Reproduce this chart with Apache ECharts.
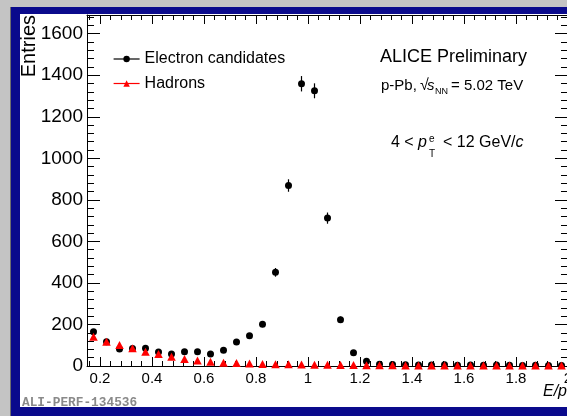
<!DOCTYPE html>
<html><head><meta charset="utf-8">
<script src="https://cdn.jsdelivr.net/npm/echarts@6/dist/echarts.min.js"></script>
<style>
html,body{margin:0;padding:0;background:#c4c4c4;width:567px;height:416px;overflow:hidden;position:relative}
#blue{position:absolute;left:10px;top:7px;width:557px;height:409px;background:#0a0a8c;border-left:1px solid #6e6e6e}
#white{position:absolute;left:20px;top:14px;width:547px;height:393px;background:#fff}
#chart{position:absolute;left:0;top:0;width:567px;height:416px}
</style>
</head><body>
<div id="blue"></div><div id="white"></div>
<div id="chart"></div>
<script>
const binCenters = [0.175,0.225,0.275,0.325,0.375,0.425,0.475,0.525,0.575,0.625,0.675,0.725,0.775,0.825,0.875,0.925,0.975,1.025,1.075,1.125,1.175,1.225,1.275,1.325,1.375,1.425,1.475,1.525,1.575,1.625,1.675,1.725,1.775,1.825,1.875,1.925,1.975];
const electronCounts = [165,117,82,84,85,67,58,69,69,58,76,116,146,201,451,869,1359,1325,712,223,64,23,8,7,6,5,5,6,4,5,4,5,4,3,4,3,3];
const electronErrors = [13,11,9,9,9,8,8,8,8,8,9,11,12,14,21,30,37,36,27,15,8,5,3,3,2,2,2,2,2,2,2,2,2,2,2,2,2];
const hadronCounts = [141,117,101,85,69,58,45,34,26,20,16,14,12,10,9,8,7,6,6,5,5,4,4,4,3,3,3,3,3,2,2,2,2,2,2,2,2];
const xMajorTicks = [0.2,0.4,0.6,0.8,1.0,1.2,1.4,1.6,1.8,2.0];
const xTickLabels = ['0.2','0.4','0.6','0.8','1','1.2','1.4','1.6','1.8','2'];
const yMajorTicks = [0,200,400,600,800,1000,1200,1400,1600];
const yTickLabels = ['0','200','400','600','800','1000','1200','1400','1600'];

const X_MIN = 0.15, X_MAX = 2.0, Y_MIN = 0, Y_MAX = 1690;
const FONT = '"Liberation Sans", Arial, Helvetica, sans-serif';

// minor tick positions (axis decoration only)
const xMinorTicks = [];
for (let k = 4; k <= 50; k++) { const v = +(k*0.04).toFixed(2); if (v > X_MIN && v < X_MAX && Math.abs(v/0.2 - Math.round(v/0.2)) > 1e-6) xMinorTicks.push(v); }
const yMinorTicks = [];
for (let v = 40; v < Y_MAX; v += 40) { if (v % 200 !== 0) yMinorTicks.push(v); }

function lookup(vals, labels, v) {
  for (let i = 0; i < vals.length; i++) if (Math.abs(vals[i]-v) < 1e-6) return labels[i];
  return '';
}

function xAx(pos, ticks, len, showLine, showLabel) {
  return {
    type:'value', position:pos, min:X_MIN, max:X_MAX, gridIndex:0,
    axisLine:{show:showLine, onZero:false, lineStyle:{color:'#000', width:1}},
    axisTick:{show:true, inside:true, length:len, customValues:ticks, lineStyle:{color:'#000', width:1}},
    axisLabel:{show:showLabel, customValues:xMajorTicks, margin:5, fontSize:15, fontFamily:FONT, color:'#000',
      alignMinLabel:'center', alignMaxLabel:'center', hideOverlap:false,
      formatter:(v)=>lookup(xMajorTicks, xTickLabels, v)},
    splitLine:{show:false}, minorTick:{show:false}
  };
}
function yAx(pos, ticks, len, showLine, showLabel) {
  return {
    type:'value', position:pos, min:Y_MIN, max:Y_MAX, gridIndex:0,
    axisLine:{show:showLine, onZero:false, lineStyle:{color:'#000', width:1}},
    axisTick:{show:true, inside:true, length:len, customValues:ticks, lineStyle:{color:'#000', width:1}},
    axisLabel:{show:showLabel, customValues:yMajorTicks, margin:4, fontSize:19, fontFamily:FONT, color:'#000',
      formatter:(v)=>lookup(yMajorTicks, yTickLabels, v)},
    splitLine:{show:false}, minorTick:{show:false}
  };
}

const chart = echarts.init(document.getElementById('chart'), null, {renderer:'canvas'});
const option = {
  animation:false,
  backgroundColor:'transparent',
  grid:{left:87, right:-1, top:15, bottom:50, containLabel:false, outerBoundsMode:'none'},
  xAxis:[
    xAx('bottom', xMajorTicks, 9, true, true),
    xAx('bottom', xMinorTicks, 5, false, false),
    xAx('top', xMajorTicks, 9, true, false),
    xAx('top', xMinorTicks, 5, false, false)
  ],
  yAxis:[
    yAx('left', yMajorTicks, 13, true, true),
    yAx('left', yMinorTicks, 7, false, false),
    yAx('right', yMajorTicks, 13, true, false),
    yAx('right', yMinorTicks, 7, false, false)
  ],
  legend:{
    show:true, orient:'vertical', left:113, top:51, padding:0, itemWidth:26, itemHeight:8, itemGap:8.5,
    selectedMode:false,
    textStyle:{fontSize:16, fontFamily:FONT, color:'#000', lineHeight:16},
    lineStyle:{width:1.2, opacity:1},
    data:['Electron candidates','Hadrons']
  },
  series:[
    {
      type:'custom', name:'errors', silent:true, xAxisIndex:0, yAxisIndex:0, z:2,
      data: binCenters.map((x,i)=>[x, electronCounts[i]-electronErrors[i], electronCounts[i]+electronErrors[i]]),
      encode:{x:0, y:[1,2]},
      renderItem:(params, api)=>{
        const a = api.coord([api.value(0), api.value(1)]);
        const b = api.coord([api.value(0), api.value(2)]);
        return {type:'line', shape:{x1:a[0], y1:a[1], x2:b[0], y2:b[1]}, style:{stroke:'#000', lineWidth:1.2}};
      }
    },
    {
      type:'line', name:'Electron candidates', silent:true, xAxisIndex:0, yAxisIndex:0, z:3,
      data: binCenters.map((x,i)=>[x, electronCounts[i]]),
      symbol:'circle', symbolSize:7, showSymbol:true, showAllSymbol:true,
      itemStyle:{color:'#000'}, lineStyle:{width:0, opacity:0, color:'#000'}, clip:false
    },
    {
      type:'line', name:'Hadrons', silent:true, xAxisIndex:0, yAxisIndex:0, z:4,
      data: binCenters.map((x,i)=>[x, hadronCounts[i]]),
      symbol:'triangle', symbolSize:[8.5,8], showSymbol:true, showAllSymbol:true,
      itemStyle:{color:'#ff0000'}, lineStyle:{width:0, opacity:0, color:'#ff0000'}, clip:false
    }
  ],
  graphic:[
    {type:'text', x:29, y:15, rotation:Math.PI/2, silent:true,
      style:{text:'Entries', font:'20px '+FONT, fill:'#000', align:'right', verticalAlign:'middle'}},
    {type:'text', x:567, y:392, silent:true,
      style:{text:'E/p', font:'italic 16px '+FONT, fill:'#000', align:'right', verticalAlign:'middle'}},
    {type:'text', x:453.5, y:57, silent:true,
      style:{text:'ALICE Preliminary', font:'18px '+FONT, fill:'#000', align:'center', verticalAlign:'middle'}},
    {type:'text', x:381, y:86, silent:true,
      style:{text:'p-Pb,', font:'15px '+FONT, fill:'#000', align:'left', verticalAlign:'middle'}},
    {type:'text', x:420, y:86, silent:true,
      style:{text:'√', font:'16px '+FONT, fill:'#000', align:'left', verticalAlign:'middle'}},
    {type:'text', x:427, y:86, silent:true,
      style:{text:'s', font:'italic 15px '+FONT, fill:'#000', align:'left', verticalAlign:'middle'}},
    {type:'text', x:435, y:92, silent:true,
      style:{text:'NN', font:'9px '+FONT, fill:'#000', align:'left', verticalAlign:'middle'}},
    {type:'text', x:451, y:86, silent:true,
      style:{text:'= 5.02 TeV', font:'15px '+FONT, fill:'#000', align:'left', verticalAlign:'middle'}},
    {type:'text', x:391, y:143, silent:true,
      style:{text:'4 <', font:'16px '+FONT, fill:'#000', align:'left', verticalAlign:'middle'}},
    {type:'text', x:418, y:143, silent:true,
      style:{text:'p', font:'italic 16px '+FONT, fill:'#000', align:'left', verticalAlign:'middle'}},
    {type:'text', x:429, y:139, silent:true,
      style:{text:'e', font:'10px '+FONT, fill:'#000', align:'left', verticalAlign:'middle'}},
    {type:'text', x:429, y:154, silent:true,
      style:{text:'T', font:'10px '+FONT, fill:'#000', align:'left', verticalAlign:'middle'}},
    {type:'text', x:443, y:143, silent:true,
      style:{text:'< 12 GeV/{i|c}', font:'16px '+FONT, fill:'#000', align:'left', verticalAlign:'middle',
        rich:{i:{fontStyle:'italic', fontSize:16, fontFamily:FONT, fill:'#000'}}}},
    {type:'text', x:22, y:403, silent:true,
      style:{text:'ALI-PERF-134536', font:'bold 12.8px "Liberation Mono", "DejaVu Sans Mono", monospace', fill:'#8a8a8a', align:'left', verticalAlign:'middle'}}
  ]
};
chart.setOption(option);
</script>
</body></html>
